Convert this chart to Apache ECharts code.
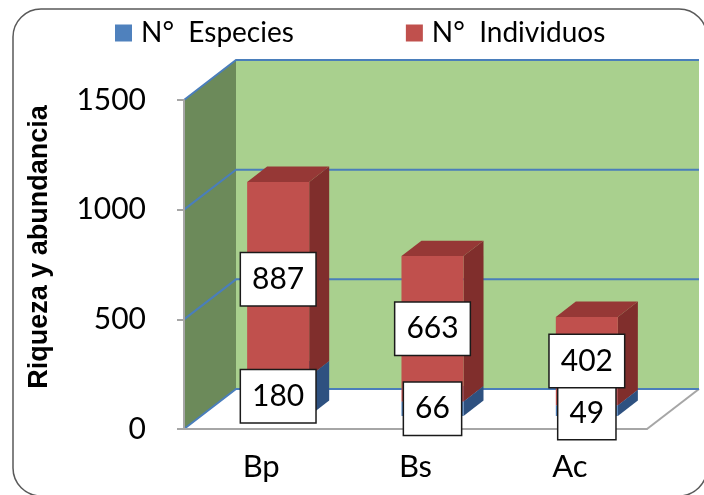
<!DOCTYPE html>
<html>
<head>
<meta charset="utf-8">
<script src="https://cdn.jsdelivr.net/npm/echarts@6/dist/echarts.min.js"></script>
<style>
  html, body { margin: 0; padding: 0; background: #ffffff; }
  #chart { width: 704px; height: 495px; }
</style>
</head>
<body>
<div id="chart"></div>
<script>
// Sampling sites and counts
const categories = ['Bp', 'Bs', 'Ac'];
const especies = [180, 66, 49];
const individuos = [887, 663, 402];
const yTicks = [0, 500, 1000, 1500];
const seriesNames = ['N°  Especies', 'N°  Individuos'];
const axisTitle = 'Riqueza y abundancia';

// 3D box geometry (pixels): back wall offset and bar depth placement
const WALL_DX = 52, WALL_DY = -40;
const SLOPE = WALL_DY / WALL_DX;
const BAR_DX0 = 17, BAR_DX1 = 37;
const BAR_WIDTH_RATIO = 0.402;

const FONT = 'Lato, "Open Sans", sans-serif';
const GRID_BLUE = '#4A7EBB';
const AXIS_GRAY = '#A6A6A6';

function renderWalls(params, api) {
  const band = api.size([1, 0])[0];
  const x0 = api.coord([0, 0])[0] - band / 2;
  const x1 = api.coord([categories.length - 1, 0])[0] + band / 2;
  const yOf = v => api.coord([0, v])[1];
  const yb = yOf(yTicks[0]);
  const yt = yOf(yTicks[yTicks.length - 1]);
  const dx = WALL_DX, dy = WALL_DY;
  const children = [
    { type: 'polygon', shape: { points: [[x0, yb], [x0, yt], [x0 + dx, yt + dy], [x0 + dx, yb + dy]] },
      style: { fill: '#6C8A5A' } },
    { type: 'polygon', shape: { points: [[x0 + dx, yt + dy], [x1 + dx, yt + dy], [x1 + dx, yb + dy], [x0 + dx, yb + dy]] },
      style: { fill: '#A9D08E' } },
    { type: 'polygon', shape: { points: [[x0, yb], [x1, yb], [x1 + dx, yb + dy], [x0 + dx, yb + dy]] },
      style: { fill: '#ffffff' } },
    { type: 'line', shape: { x1: x1, y1: yb, x2: x1 + dx, y2: yb + dy },
      style: { stroke: AXIS_GRAY, lineWidth: 2 } }
  ];
  yTicks.forEach(v => {
    const y = yOf(v);
    children.push({
      type: 'polyline',
      shape: { points: [[x0, y], [x0 + dx, y + dy], [x1 + dx, y + dy]] },
      style: { stroke: GRID_BLUE, lineWidth: 2, fill: null }
    });
  });
  return { type: 'group', children };
}

function labelBox(text, x, y) {
  return {
    type: 'text', z2: 100, x: x, y: y,
    style: {
      text: text, fill: '#000', fontSize: 30, fontFamily: FONT,
      align: 'center', verticalAlign: 'middle', lineHeight: 31,
      backgroundColor: '#ffffff', borderColor: '#1a1a1a', borderWidth: 1.5,
      padding: [11, 11, 10, 11]
    }
  };
}

function makeBarRenderer(colors, isBase) {
  return function (params, api) {
    const i = api.value(0), lo = api.value(1), hi = api.value(2), val = api.value(3);
    const band = api.size([1, 0])[0];
    const w = band * BAR_WIDTH_RATIO;
    const cx = api.coord([i, 0])[0];
    const fx0 = cx - w / 2 + BAR_DX0, fx1 = fx0 + w;
    const shiftY = BAR_DX0 * SLOPE;
    const yLo = api.coord([i, lo])[1] + shiftY;
    const yHi = api.coord([i, hi])[1] + shiftY;
    const ddx = BAR_DX1 - BAR_DX0, ddy = ddx * SLOPE;

    let ly = (yLo + yHi) / 2;
    if (isBase) {
      // keep the lower label clear of the label above it
      const upperMid = especies[i] + individuos[i] / 2;
      const yUpper = api.coord([i, upperMid])[1] + shiftY;
      if (ly - yUpper < 52) ly = yUpper + 52;
    }
    return {
      type: 'group',
      children: [
        { type: 'polygon', shape: { points: [[fx1, yHi], [fx1 + ddx, yHi + ddy], [fx1 + ddx, yLo + ddy], [fx1, yLo]] },
          style: { fill: colors.side } },
        { type: 'polygon', shape: { points: [[fx0, yHi], [fx1, yHi], [fx1 + ddx, yHi + ddy], [fx0 + ddx, yHi + ddy]] },
          style: { fill: colors.top } },
        { type: 'rect', shape: { x: fx0, y: yHi, width: w, height: yLo - yHi },
          style: { fill: colors.front } },
        labelBox(String(val), (fx0 + fx1) / 2, ly)
      ]
    };
  };
}

const especiesData = categories.map((c, i) => [i, 0, especies[i], especies[i]]);
const individuosData = categories.map((c, i) => [i, especies[i], especies[i] + individuos[i], individuos[i]]);

const chart = echarts.init(document.getElementById('chart'), null, { renderer: 'canvas' });
chart.setOption({
  animation: false,
  backgroundColor: '#ffffff',
  grid: { left: 184, right: 57, top: 100, bottom: 66, containLabel: false, outerBoundsMode: 'none' },
  legend: {
    data: seriesNames,
    left: 110, top: 14,
    icon: 'rect', itemWidth: 17, itemHeight: 17, itemGap: 112,
    textStyle: { fontSize: 28, fontFamily: FONT, color: '#000', padding: [0, 0, 0, 4] }
  },
  xAxis: {
    type: 'category', data: categories, z: 5,
    axisLine: { lineStyle: { color: AXIS_GRAY, width: 2 } },
    axisTick: { length: 10, lineStyle: { color: AXIS_GRAY, width: 2 } },
    axisLabel: { fontSize: 31, fontFamily: FONT, color: '#000', margin: 22 }
  },
  yAxis: {
    type: 'value', min: 0, max: 1500, interval: 500, z: 5,
    axisLine: { show: true, lineStyle: { color: AXIS_GRAY, width: 2 } },
    axisTick: { show: true, length: 7, lineStyle: { color: AXIS_GRAY, width: 2 } },
    axisLabel: { fontSize: 30, fontFamily: FONT, color: '#000', margin: 38, formatter: v => String(v) },
    splitLine: { show: false }
  },
  graphic: [
    { type: 'rect', z: 50, shape: { x: 13, y: 9, width: 694, height: 487, r: 28 },
      style: { fill: null, stroke: '#595959', lineWidth: 1.5 } },
    { type: 'text', z: 50, x: 40, y: 247, rotation: Math.PI / 2,
      style: { text: axisTitle, fill: '#000', fontSize: 27, fontWeight: 'bold',
        fontFamily: '"Liberation Sans", Arial, sans-serif', align: 'center', verticalAlign: 'middle' } }
  ],
  series: [
    { type: 'custom', name: 'walls', z: 1, clip: false, silent: true,
      data: [[0]], renderItem: renderWalls },
    { type: 'custom', name: seriesNames[0], z: 20, clip: false,
      itemStyle: { color: '#4F81BD' },
      encode: { x: 0, y: 2 },
      data: especiesData,
      renderItem: makeBarRenderer({ front: '#4F81BD', side: '#2E5180', top: '#3A64A0' }, true) },
    { type: 'custom', name: seriesNames[1], z: 20, clip: false,
      itemStyle: { color: '#C0504D' },
      encode: { x: 0, y: 2 },
      data: individuosData,
      renderItem: makeBarRenderer({ front: '#C0504D', side: '#802E2C', top: '#963836' }, false) }
  ]
});
</script>
</body>
</html>
